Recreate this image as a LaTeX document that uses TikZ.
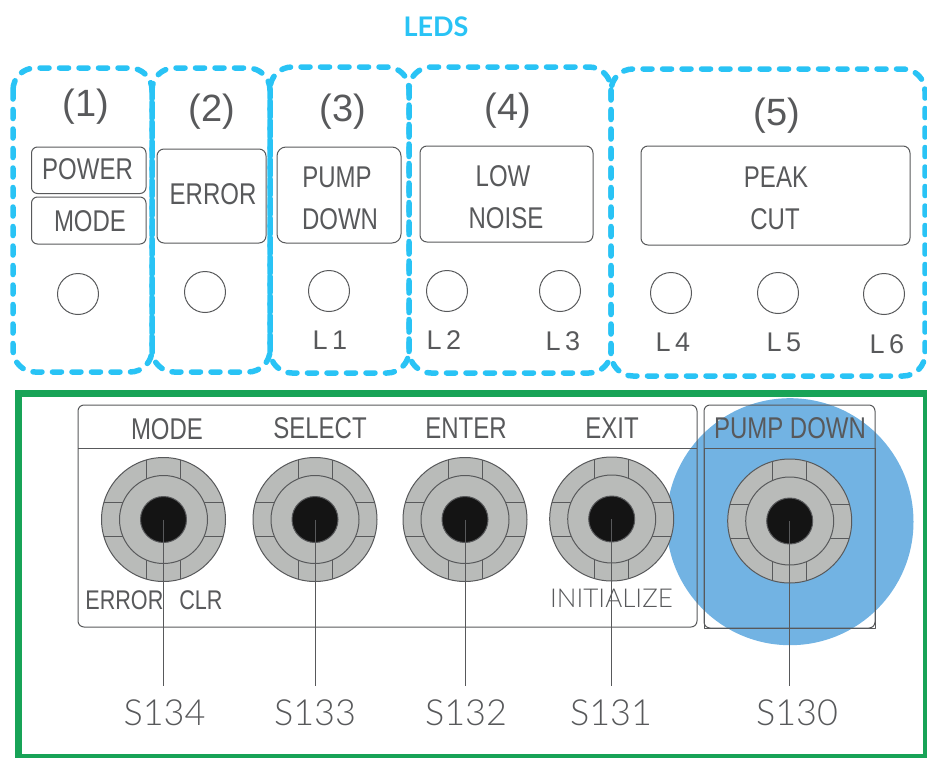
\documentclass[tikz,border=0pt]{standalone}
\usepackage{fontspec}
\setmainfont{Liberation Sans}
\newfontfamily\narrowfont[FakeStretch=0.8]{Liberation Sans}
\newfontfamily\thinfont{Lato Light}
\newfontfamily\headfont{Lato Bold}
\definecolor{ledblue}{HTML}{29C3F5}
\definecolor{framegreen}{HTML}{18A357}
\definecolor{inkgrey}{HTML}{58595B}
\definecolor{knobgrey}{HTML}{B9BBB9}
\definecolor{spotblue}{HTML}{72B3E3}
\tikzset{
	ledgroup/.style={draw=ledblue, line width=5.5pt, rounded corners=22pt, line cap=round, dash pattern=on 9pt off 10.5pt},
	panel/.style={draw=inkgrey, line width=1pt},
	caption/.style={text=inkgrey, font=\narrowfont\fontsize{30}{30}\selectfont, inner sep=0pt},
	smallcaption/.style={text=inkgrey, font=\narrowfont\fontsize{27}{27}\selectfont, inner sep=0pt},
	number/.style={text=inkgrey, font=\fontsize{38}{38}\selectfont, inner sep=0pt},
	ledname/.style={text=inkgrey, font=\fontsize{27}{27}\selectfont, inner sep=0pt},
	led/.style={circle, draw=inkgrey, line width=1pt, minimum size=41pt, inner sep=0pt},
	switchname/.style={text=inkgrey, font=\thinfont\fontsize{36}{36}\selectfont, inner sep=0pt},
	knob/.style={circle, draw=inkgrey, fill=knobgrey, line width=1pt, inner sep=0pt},
	leader/.style={draw=inkgrey, line width=1pt}
}
\begin{document}
\begin{tikzpicture}[x=1pt, y=-1pt, line join=round]
	
	\useasboundingbox (0,0) rectangle (927,758);
	
	\node[text=ledblue, font=\headfont\fontsize{27}{27}\selectfont, inner sep=0pt] (leds) at (436,27) {LEDS};
	
	\draw[ledgroup] (13,68) rectangle (152,372);
	\draw[ledgroup] (152,68) rectangle (270,372);
	\draw[ledgroup] (270,67) rectangle (409,373);
	\draw[ledgroup] (409,67) rectangle (611,373);
	\draw[ledgroup] (611,69) rectangle (925,376);
	
	\node[number] (n1) at (86,107) {(1)};
	\node[number] (n2) at (212,112) {(2)};
	\node[number] (n3) at (343,112) {(3)};
	\node[number] (n4) at (508,111) {(4)};
	\node[number] (n5) at (777,116) {(5)};
	
	\draw[panel, rounded corners=6pt] (31.5,193.5) -- (31.5,147) -- (146,147) -- (146,193.5) -- cycle;
	\draw[panel, rounded corners=6pt] (31.5,197) -- (31.5,244) -- (146,244) -- (146,197) -- cycle;
	\draw[panel, rounded corners=7pt] (157,149) rectangle (266,243);
	\draw[panel, rounded corners=9pt] (277,147) rectangle (401,243);
	\draw[panel, rounded corners=7pt] (420,146) rectangle (593,242);
	\draw[panel, rounded corners=7pt] (641,146) rectangle (910,245);
	
	\node[caption] (power) at (87.5,169) {POWER};
	\node[caption] (mode) at (90,221) {MODE};
	\node[caption] (error) at (213,194) {ERROR};
	\node[caption] (pump) at (337,177) {PUMP};
	\node[caption] (down) at (340,219) {DOWN};
	\node[caption] (low) at (503,176) {LOW};
	\node[caption] (noise) at (506,218) {NOISE};
	\node[caption] (peak) at (776,177) {PEAK};
	\node[caption] (cut) at (775,219) {CUT};
	
	\foreach \name/\px/\py in {a/78/294, b/205/292, c/329/291, d/447/291, e/560/291, f/671/293, g/778/293, h/884/294}
	\node[led] (led\name) at (\px,\py) {};
	
	\node[ledname] (l1) at (330,340) {L\,1};
	\node[ledname] (l2) at (444,340) {L\,2};
	\node[ledname] (l3) at (563,341) {L\,3};
	\node[ledname] (l4) at (673,342) {L\,4};
	\node[ledname] (l5) at (784,342) {L\,5};
	\node[ledname] (l6) at (887,344) {L\,6};
	
	\draw[framegreen, line width=7pt, line join=miter] (18,393.5) rectangle (926.5,757);
	
	\fill[spotblue] (790,521.7) circle (123.5pt);
	
	\draw[panel, rounded corners=6pt] (78,405) rectangle (697,627);
	\draw[panel] (78,448) -- (697,448);
	\draw[panel, rounded corners=6pt] (704,405) rectangle (875,628);
	\draw[panel] (704,448) -- (875,448) (704,448) -- (704,628) -- (875,628) -- (875,448);
	
	\node[caption] (kmode) at (167,429) {MODE};
	\node[caption] (kselect) at (320,428) {SELECT};
	\node[caption] (kenter) at (466,428) {ENTER};
	\node[caption] (kexit) at (612,428) {EXIT};
	\node[caption] (kpump) at (790,428) {PUMP DOWN};
	
	\node[smallcaption] (kerror) at (154,600) {ERROR\hspace{16pt}CLR};
	\node[text=inkgrey, font=\thinfont\fontsize{26}{26}\selectfont, inner sep=0pt] (kinit) at (611.5,598) {INITIALIZE};
	
	\foreach \name/\px/\py/\lx in {134/163.5/519.5/164.5, 133/315/519.5/315, 132/465/519.5/466, 131/611.7/519/611, 130/789.7/521/797}{
		\node[knob, minimum size=124pt] (outer\name) at (\px,\py) {};
		\foreach \sx in {-1,1}{
			\draw[leader] (\px+\sx*17,\py-40.6) -- (\px+\sx*17,\py-59.6);
			\draw[leader] (\px+\sx*17,\py+40.6) -- (\px+\sx*17,\py+59.6);
			\draw[leader] (\px-40.6,\py+\sx*17) -- (\px-59.6,\py+\sx*17);
			\draw[leader] (\px+40.6,\py+\sx*17) -- (\px+59.6,\py+\sx*17);
		}
		\node[knob, minimum size=88pt] (middle\name) at (\px,\py) {};
		\node[knob, fill=black!92, minimum size=46pt] (inner\name) at (\px,\py) {};
		\node[switchname] (s\name) at (\lx,713) {S\name};
		\coordinate (end\name) at (\px,686);
		\draw[leader] (inner\name.center) -- (end\name);
	}
	
\end{tikzpicture}
\end{document}
